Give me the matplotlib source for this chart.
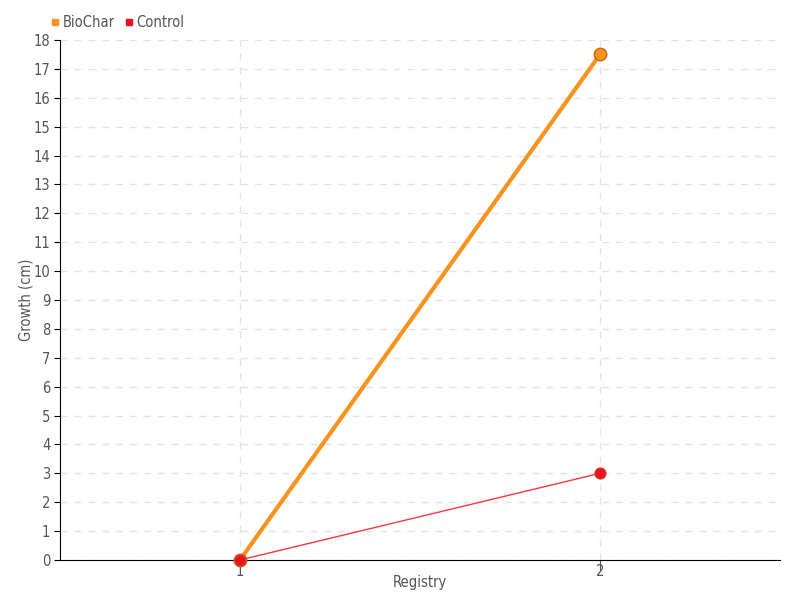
import matplotlib
matplotlib.use("Agg")
import matplotlib.pyplot as plt
from matplotlib.lines import Line2D

registry = [1, 2]
biochar = [0, 17.5]
control = [0, 3]

plt.rcParams['font.family'] = ['DejaVu Sans']
plt.rcParams['font.stretch'] = 'condensed'

fig = plt.figure(figsize=(8, 6), dpi=100)
ax = fig.add_axes([0.075, 0.0667, 0.9, 0.8667])

ax.plot(registry, biochar, color='#f7931e', lw=3, marker='o', ms=9, clip_on=False,
        markerfacecolor='#f7931e', markeredgecolor='#c86a10', markeredgewidth=1, zorder=3)
ax.plot(registry, control, color='#ff3344', lw=1, marker='o', ms=8, clip_on=False,
        markerfacecolor='#ee1122', markeredgecolor='#cc4422', markeredgewidth=0.8, zorder=4)

ax.set_xlim(0.5, 2.5)
ax.set_ylim(0, 18)
ax.set_xticks(registry)
ax.set_yticks(range(0, 19))
ax.grid(True, color='#e3e3e3', linestyle=(0, (5, 5)), lw=1)
for s in ['top', 'right']:
    ax.spines[s].set_visible(False)
ax.spines['left'].set_color('black')
ax.spines['bottom'].set_color('black')
ax.tick_params(axis='y', length=4, colors='#555555', labelsize=10.5, pad=3)
ax.tick_params(axis='y', color='black')
ax.tick_params(axis='x', length=8, colors='#555555', labelsize=10.5, pad=-5)
ax.tick_params(axis='x', color='#555555')
ax.set_xlabel('Registry', color='#555555', fontsize=10.5, labelpad=-3)
ax.set_ylabel('Growth (cm)', color='#555555', fontsize=10.5, labelpad=0)

handles = [Line2D([], [], ls='', marker='s', ms=5, color='#f7931e'),
           Line2D([], [], ls='', marker='s', ms=5, color='#ee1122')]
fig.legend(handles, ['BioChar', 'Control'], loc='upper left', bbox_to_anchor=(0.045, 0.997),
           ncol=2, frameon=False, fontsize=10.5, handletextpad=0.1, columnspacing=0.6,
           labelcolor='#555555', handlelength=0.8)

fig.savefig('out.png')
